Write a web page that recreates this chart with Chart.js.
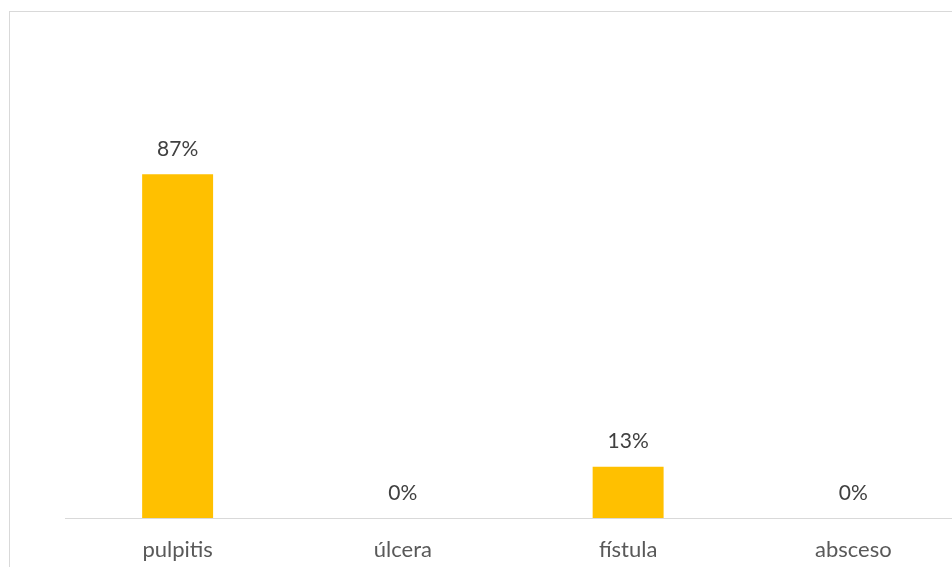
<!DOCTYPE html>
<html>
<head>
<meta charset="utf-8">
<script src="https://cdn.jsdelivr.net/npm/chart.js@4/dist/chart.umd.min.js"></script>
<style>
  html, body { margin: 0; padding: 0; background: #fff; }
  #wrap { position: relative; width: 952px; height: 567px; overflow: hidden; background: #fff; }
  #frame { position: absolute; left: 9px; top: 11px; width: 1100px; height: 700px; border: 1px solid #d9d9d9; box-sizing: border-box; }
  #myChart { position: absolute; left: 0; top: 0; }
</style>
</head>
<body>
<div id="wrap">
  <div id="frame"></div>
  <canvas id="myChart" width="980" height="567"></canvas>
</div>
<script>
// categories and values (percent)
const categories = ['pulpitis', 'úlcera', 'fístula', 'absceso'];
const percentValues = [87, 0, 13, 0];

const labelFont = 'Lato';

// draws the "87%" style labels above each bar
const valueLabels = {
    id: 'valueLabels',
    afterDatasetsDraw(chart) {
        const ctx = chart.ctx;
        const meta = chart.getDatasetMeta(0);
        ctx.save();
        ctx.font = '21px ' + labelFont;
        ctx.fillStyle = '#404040';
        ctx.textAlign = 'center';
        ctx.textBaseline = 'middle';
        meta.data.forEach((bar, i) => {
            ctx.fillText(percentValues[i] + '%', bar.x, bar.y - 25);
        });
        ctx.restore();
    }
};

const config = {
    type: 'bar',
    data: {
        labels: categories,
        datasets: [{
            data: percentValues,
            backgroundColor: '#FFC000',
            borderWidth: 0,
            barPercentage: 0.315,
            categoryPercentage: 1
        }]
    },
    options: {
        responsive: false,
        animation: false,
        devicePixelRatio: 1,
        layout: {
            padding: { left: 65, right: 14, top: 123, bottom: 0 }
        },
        plugins: {
            legend: { display: false },
            tooltip: { enabled: false }
        },
        scales: {
            x: {
                grid: { display: false, drawTicks: false },
                border: { display: true, color: '#d9d9d9', width: 1 },
                ticks: {
                    color: '#595959',
                    font: { family: labelFont, size: 22 },
                    padding: 19,
                    maxRotation: 0
                },
                afterFit(scale) { scale.height = 49; }
            },
            y: {
                display: false,
                min: 0,
                max: 100
            }
        }
    },
    plugins: [valueLabels]
};

const myChart = new Chart(document.getElementById('myChart'), config);
</script>
</body>
</html>
